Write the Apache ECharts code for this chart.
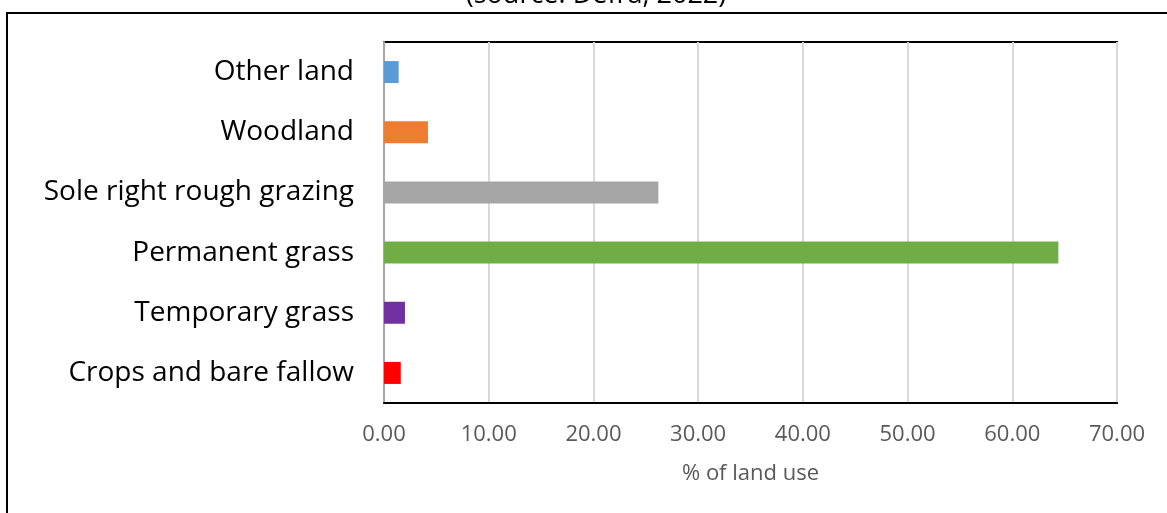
<!DOCTYPE html>
<html>
<head>
<meta charset="utf-8">
<script src="https://cdn.jsdelivr.net/npm/echarts@6/dist/echarts.min.js"></script>
<style>
  html, body { margin: 0; padding: 0; background: #fff; }
  #chart { width: 1167px; height: 513px; }
</style>
</head>
<body>
<div id="chart"></div>
<script>
// Land use categories, listed bottom to top on the vertical axis
const categories = [
  'Crops and bare fallow',
  'Temporary grass',
  'Permanent grass',
  'Sole right rough grazing',
  'Woodland',
  'Other land'
];
// Share of land use (%)
const values = [1.6, 2.0, 64.4, 26.2, 4.2, 1.4];
const barColors = ['#ff0000', '#7030a0', '#70ad47', '#a5a5a5', '#ed7d31', '#5b9bd5'];
const xTicks = { min: 0, max: 70, interval: 10 };

const chart = echarts.init(document.getElementById('chart'), null, { renderer: 'canvas' });

const font = '"Open Sans", "Noto Sans", sans-serif';

chart.setOption({
  animation: false,
  backgroundColor: '#ffffff',
  title: {
    text: '(source: Defra, 2022)',
    left: 591,
    textAlign: 'center',
    top: -23,
    textStyle: { fontFamily: font, fontSize: 27, fontWeight: 'normal', color: '#000000' }
  },
  graphic: [{
    type: 'rect',
    shape: { x: 7, y: 13, width: 1200, height: 600 },
    style: { fill: 'none', stroke: '#000000', lineWidth: 2 },
    z: 100
  }],
  grid: {
    left: 384, top: 42, right: 50, bottom: 110,
    show: true, borderColor: '#000000', borderWidth: 2, backgroundColor: 'transparent'
  },
  xAxis: {
    type: 'value',
    min: xTicks.min, max: xTicks.max, interval: xTicks.interval,
    name: '% of land use',
    nameLocation: 'middle',
    nameGap: 60,
    nameTextStyle: { fontFamily: font, fontSize: 22, color: '#595959' },
    axisLine: { show: true, lineStyle: { color: '#000000', width: 2 } },
    axisTick: { show: false },
    axisLabel: {
      margin: 21,
      fontFamily: font, fontSize: 22, color: '#595959',
      formatter: v => v.toFixed(2)
    },
    splitLine: { show: true, lineStyle: { color: '#d9d9d9', width: 2 } }
  },
  yAxis: {
    type: 'category',
    data: categories,
    axisLine: { show: true, lineStyle: { color: '#a6a6a6', width: 2 } },
    axisTick: { show: false },
    axisLabel: { margin: 30, fontFamily: font, fontSize: 28, color: '#000000' }
  },
  series: [{
    type: 'bar',
    data: values.map((v, i) => ({ value: v, itemStyle: { color: barColors[i] } })),
    barWidth: 22
  }]
});
</script>
</body>
</html>
